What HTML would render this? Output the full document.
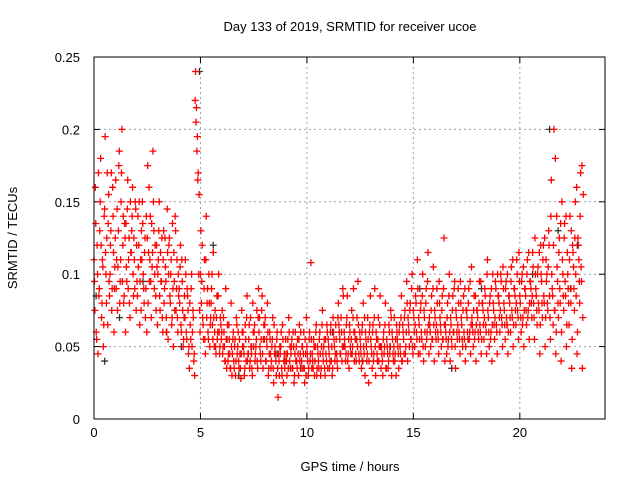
<!DOCTYPE html>
<html><head><meta charset="utf-8"><style>
body{margin:0;background:#fff;}
svg{display:block;font-family:"Liberation Sans",sans-serif;}
</style></head><body>
<svg id="chart" width="640" height="480">
<text x="350" y="31" font-size="13" text-anchor="middle">Day 133 of 2019, SRMTID for receiver ucoe</text>
<text x="350" y="471" font-size="13" text-anchor="middle">GPS time / hours</text>
<text transform="translate(17,238) rotate(-90)" font-size="13" text-anchor="middle">SRMTID / TECUs</text>
<g id="grid"></g>
<g id="ticks"></g>
<g id="black"></g>
<g id="red"></g>
<rect x="94" y="57" width="511" height="362" fill="none" stroke="#000" stroke-width="1"/>
</svg>
<script>
const xTicks=[0,5,10,15,20];
const yTicks=[0,0.05,0.1,0.15,0.2,0.25];
const yTickLabels=["0","0.05","0.1","0.15","0.2","0.25"];
const binStart=0, binWidth=0.25;
// per-bin SRMTID values (thousandths of TECU)
const redBins=[
[95,160,60,120,45,85],[130,180,70,110,50,140],[195,100,125,65,155,85],[120,170,90,140,60,105],
[165,110,75,130,185,95],[150,200,120,80,135,60],[105,145,90,125,70,115],[130,160,85,110,150,75],
[95,140,120,65,110,130],[150,100,80,125,90,60],[175,115,95,140,70,105],[185,130,100,85,120,65],
[110,150,75,95,125,60],[130,90,105,70,145,55],[120,85,100,65,135,50],[95,140,75,110,60,85],
[80,120,60,95,50,70],[70,100,55,85,45,35],[65,90,50,75,40,30],[240,215,195,170,155,60],
[130,95,70,55,110,45],[140,80,60,100,50,70],[90,65,115,50,75,45],[85,60,100,45,70,55],
[75,50,60,40,90,35],[65,45,55,35,80,30],[55,40,50,30,70,45],[60,35,45,28,75,50],
[50,30,65,40,85,45],[55,35,70,45,30,60],[60,40,50,75,35,90],[70,45,55,85,35,65],
[65,40,55,80,30,45],[55,35,50,70,25,45],[45,30,60,15,40,50],[50,35,65,25,45,40],
[45,30,55,70,40,35],[50,35,60,25,45,40],[40,55,30,65,45,35],[50,35,60,25,45,70],
[45,30,55,40,108,35],[40,55,30,50,65,35],[45,35,60,30,50,75],[40,55,30,45,65,35],
[50,35,60,40,30,70],[55,40,65,45,35,80],[60,45,70,40,90,50],[55,40,65,85,45,35],
[60,45,75,50,90,40],[55,40,70,95,45,60],[50,35,65,80,45,30],[55,40,70,25,60,85],
[50,35,65,45,90,30],[55,40,70,50,85,35],[45,30,60,50,80,35],[50,35,65,45,75,30],
[55,40,70,45,30,60],[50,35,65,45,85,40],[60,45,75,50,95,40],[65,50,80,55,100,45],
[70,50,85,60,110,45],[65,45,80,55,100,40],[70,50,90,60,115,45],[65,50,85,55,105,40],
[70,55,90,60,45,80],[65,50,85,55,125,40],[60,45,80,55,100,40],[65,50,85,60,95,35],
[70,55,90,60,45,80],[65,50,85,55,40,75],[70,55,90,60,45,105],[65,50,85,60,40,75],
[70,55,95,60,45,80],[75,55,90,65,45,110],[70,50,85,60,40,100],[75,55,95,65,45,85],
[80,60,100,70,50,90],[75,55,95,65,45,85],[80,60,105,70,50,90],[85,65,110,75,55,95],
[80,60,100,70,50,90],[85,65,110,75,55,95],[90,70,115,80,55,100],[85,65,105,75,45,120],
[95,70,120,80,50,110],[100,75,130,85,55,165],[90,65,200,75,45,140],[95,70,125,80,40,150],
[100,75,135,85,50,115],[90,65,140,80,35,120],[105,75,150,85,45,125],[110,80,170,95,35,155]
];
const redBins2=[
[110,75,135,55,100,170],[90,150,120,80,105,65],[145,115,80,170,135,95],[100,130,75,160,115,90],
[125,90,145,105,175,80],[110,170,95,140,85,125],[135,95,165,110,80,150],[115,140,100,125,90,145],
[120,85,105,150,95,75],[110,135,90,115,70,140],[125,80,160,110,95,135],[115,150,90,120,75,105],
[100,130,85,115,95,70],[110,80,125,95,60,115],[100,125,80,110,70,90],[115,75,130,90,70,100],
[90,105,65,110,75,55],[85,110,60,90,75,50],[80,55,100,60,70,45],[220,205,185,165,100,75],
[100,80,120,65,90,55],[110,70,90,55,80,65],[80,100,55,70,60,50],[70,55,85,60,50,65],
[60,45,70,50,40,55],[55,40,65,45,35,50],[45,60,35,55,40,65],[50,40,55,35,45,60],
[60,45,35,55,70,40],[45,65,40,50,35,80],[50,65,45,55,40,70],[60,50,40,75,45,55],
[55,70,40,50,60,35],[60,45,40,55,35,65],[50,40,55,35,45,30],[45,60,30,55,40,35],
[55,40,45,35,60,50],[45,55,35,50,30,60],[50,35,45,55,40,60],[40,50,45,35,55,30],
[50,40,35,60,45,55],[45,35,50,40,60,30],[50,40,55,45,35,65],[45,50,35,55,40,60],
[55,45,40,65,50,35],[60,50,45,55,40,70],[65,55,45,60,50,85],[60,50,45,70,40,55],
[65,50,55,45,70,60],[60,45,55,50,65,40],[55,45,60,40,50,70],[60,50,45,55,40,65],
[55,45,60,40,70,50],[60,45,55,40,65,50],[50,40,55,45,65,35],[55,45,40,60,50,70],
[60,45,50,40,55,65],[55,45,60,50,70,40],[65,55,70,45,60,80],[70,60,75,55,90,50],
[75,60,65,80,55,90],[70,55,75,60,85,50],[75,60,80,55,95,65],[70,60,75,55,90,65],
[75,60,65,80,55,95],[70,60,75,55,90,65],[65,55,70,50,85,60],[70,55,75,60,90,50],
[75,60,65,80,55,95],[70,55,75,60,90,50],[75,60,80,55,95,65],[70,60,75,55,85,65],
[75,60,80,65,95,55],[80,65,70,85,60,100],[75,60,80,55,90,65],[80,65,70,90,60,100],
[85,70,75,95,65,105],[80,65,90,70,100,60],[85,70,95,75,110,65],[90,75,80,100,70,115],
[85,70,95,65,105,75],[90,75,100,70,115,80],[95,80,85,105,70,125],[90,75,100,80,115,65],
[100,80,110,85,125,70],[95,80,105,120,70,140],[100,85,120,75,180,60],[105,80,115,90,135,60],
[110,85,125,95,140,65],[100,80,110,90,130,55],[115,90,125,100,160,60],[120,95,140,105,175,70]
];
const blackX=[0.1,0.5,1.2,2.3,3.4,4.1,4.95,5.6,6.8,7.4,8.6,9.7,11.2,12.6,13.9,15.3,16.8,18.2,19.4,20.6,21.4,21.8,22.4,22.7];
const blackY=[0.085,0.04,0.07,0.095,0.06,0.05,0.24,0.12,0.03,0.05,0.045,0.035,0.06,0.04,0.05,0.09,0.035,0.09,0.065,0.1,0.2,0.13,0.09,0.12];

const X0=94,X1=605,Y0=419,Y1=57;
const xs=v=>X0+(v/24)*(X1-X0);
const ys=v=>Y0-(v/0.25)*(Y0-Y1);
const NS="http://www.w3.org/2000/svg";
const grid=document.getElementById('grid'),ticks=document.getElementById('ticks');
function mk(tag,attrs,parent){const e=document.createElementNS(NS,tag);for(const k in attrs)e.setAttribute(k,attrs[k]);parent.appendChild(e);return e;}
xTicks.forEach(t=>{const x=xs(t);
 if(t>0){const g=mk('line',{x1:x,x2:x,y1:Y1,y2:Y0,stroke:'#a0a0a0','stroke-dasharray':'2,3'},grid);
 
 }
 mk('line',{x1:x,x2:x,y1:Y0,y2:Y0-6,stroke:'#000'},ticks);
 mk('line',{x1:x,x2:x,y1:Y1,y2:Y1+6,stroke:'#000'},ticks);
 const l=mk('text',{x:x,y:Y0+18,'font-size':13,'text-anchor':'middle'},ticks);l.textContent=t;
 
 
});
yTicks.forEach((t,i)=>{const y=ys(t);
 if(t>0&&t<0.25){const g=mk('line',{x1:X0,x2:X1,y1:y,y2:y,stroke:'#a0a0a0','stroke-dasharray':'2,3'},grid);
 
 }
 mk('line',{x1:X0,x2:X0+6,y1:y,y2:y,stroke:'#000'},ticks);
 mk('line',{x1:X1,x2:X1-6,y1:y,y2:y,stroke:'#000'},ticks);
 const l=mk('text',{x:X0-14,y:y+5,'font-size':13,'text-anchor':'end'},ticks);l.textContent=yTickLabels[i];
 
 
});
function plus(g,x,y,c,name){const p=mk('path',{d:`M${x-3.5},${y}h7M${x},${y-3.5}v7`,stroke:c,'stroke-width':1.3,fill:'none'},g);
 
 }
const bg=document.getElementById('black');
blackX.forEach((h,i)=>plus(bg,xs(h),ys(blackY[i]),'#333','point-black'));
const rg=document.getElementById('red');
function drawBins(bins,shift){bins.forEach((vals,b)=>{vals.forEach((v,i)=>{
 const h=binStart+b*binWidth+((i+shift)/vals.length)*binWidth;
 plus(rg,xs(h),ys(v/1000),'#ff0000','point-red');
});});}
drawBins(redBins,0.5);
drawBins(redBins2,0);
</script>
</body></html>
